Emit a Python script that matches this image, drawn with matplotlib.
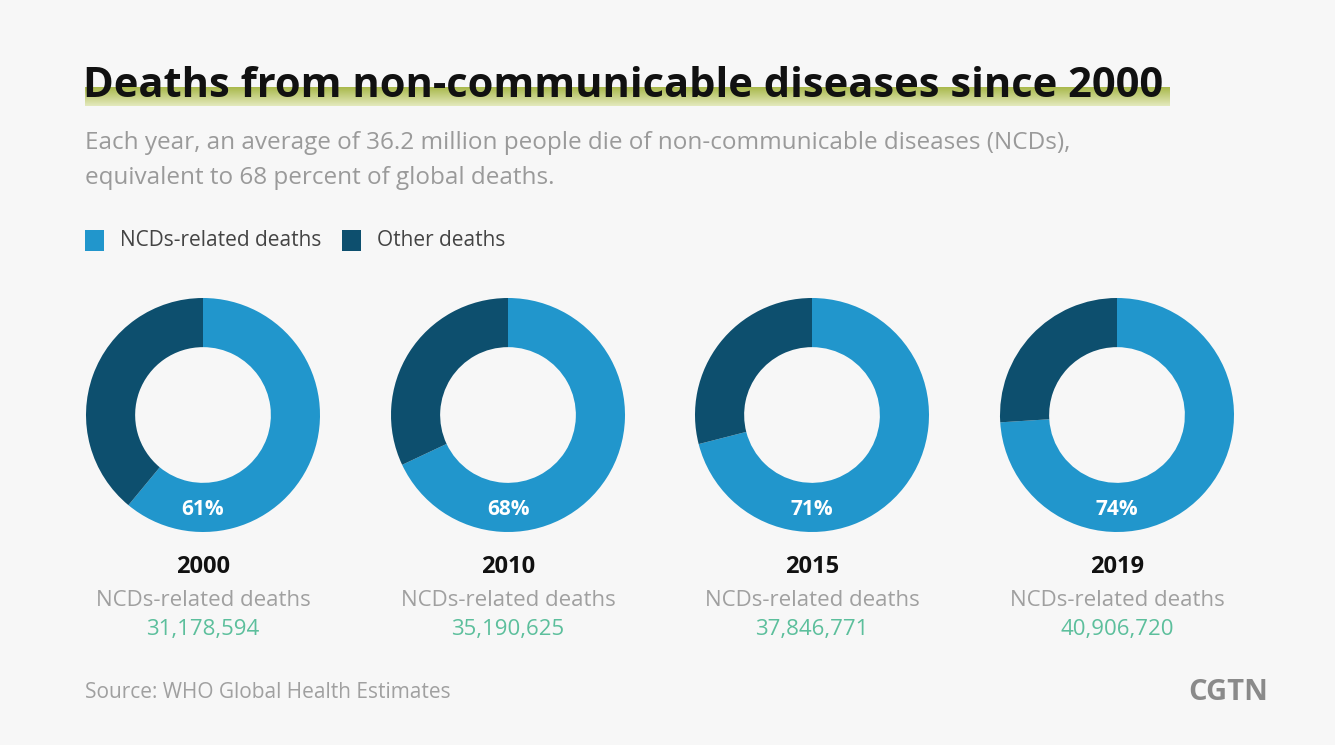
import matplotlib

matplotlib.use("Agg")
import matplotlib.pyplot as plt
import numpy as np
from matplotlib.colors import LinearSegmentedColormap
from matplotlib.patches import Rectangle

plt.rcParams["font.family"] = ["Open Sans", "DejaVu Sans"]

YEARS = ["2000", "2010", "2015", "2019"]
NCD_SHARE = [61, 68, 71, 74]
NCD_DEATHS = ["31,178,594", "35,190,625", "37,846,771", "40,906,720"]
LEGEND_LABELS = ["NCDs-related deaths", "Other deaths"]

TITLE = "Deaths from non-communicable diseases since 2000"
SUBTITLE = ("Each year, an average of 36.2 million people die of non-communicable diseases (NCDs),\n"
            "equivalent to 68 percent of global deaths.")
SOURCE = "Source: WHO Global Health Estimates"

NCD_COLOR = "#2196cc"
OTHER_COLOR = "#0d4f6e"
BG = "#f7f7f7"
W, H = 1335, 745


def fx(px: float) -> float:
    return px / W


def fy(py: float) -> float:
    return 1 - py / H


fig = plt.figure(figsize=(W / 100, H / 100), dpi=100, facecolor=BG)

# olive highlighter stroke under the title, fading downward
hl = fig.add_axes([fx(85), fy(106), fx(1170) - fx(85), fy(87) - fy(106)], zorder=0)
hl_cmap = LinearSegmentedColormap.from_list("hl", ["#e4e9bd", "#a9b94c"])
hl.imshow(np.linspace(0, 1, 50).reshape(-1, 1), aspect="auto", cmap=hl_cmap,
          origin="lower", extent=[0, 1, 0, 1])
hl.axis("off")

fig.text(fx(83), fy(97), TITLE, fontsize=30, fontweight="bold", color="#111111",
         va="baseline", ha="left", zorder=5)
fig.text(fx(85), fy(131), SUBTITLE, fontsize=17.5, color="#9a9a9a", va="top", ha="left",
         linespacing=1.62)

# legend
for lx, tx, color, label in zip([85, 342], [120, 377], [NCD_COLOR, OTHER_COLOR], LEGEND_LABELS):
    fig.patches.append(Rectangle((fx(lx), fy(251)), fx(19), fy(230) - fy(251),
                                 transform=fig.transFigure, facecolor=color, edgecolor="none"))
    fig.text(fx(tx), fy(240), label, fontsize=15, color="#444444", va="center", ha="left")

centers = [203, 508, 812, 1117]
radius = 117
cy = 415
for cx, year, share, deaths in zip(centers, YEARS, NCD_SHARE, NCD_DEATHS):
    ax = fig.add_axes([fx(cx - radius), fy(cy + radius), fx(2 * radius), fy(cy - radius) - fy(cy + radius)])
    ax.pie([share, 100 - share], colors=[NCD_COLOR, OTHER_COLOR], startangle=90,
           counterclock=False, wedgeprops={"width": 0.42, "edgecolor": "none"})
    ax.set_xlim(-1, 1)
    ax.set_ylim(-1, 1)
    ax.set_aspect("equal")
    ax.axis("off")
    ax.text(0, -0.81, f"{share}%", ha="center", va="center", fontsize=15,
            fontweight="bold", color="white")

    fig.text(fx(cx), fy(567), year, ha="center", va="center", fontsize=17,
             fontweight="bold", color="#111111")
    fig.text(fx(cx), fy(601), "NCDs-related deaths", ha="center", va="center",
             fontsize=16, color="#a0a0a0")
    fig.text(fx(cx), fy(629), deaths, ha="center", va="center", fontsize=16,
             color="#5cbf9c")

fig.text(fx(85), fy(692), SOURCE, ha="left", va="center", fontsize=15, color="#a0a0a0")
fig.text(fx(1268), fy(692), "CGTN", ha="right", va="center", fontsize=21,
         fontweight="bold", color="#8a8a8a")

fig.savefig("out.png", dpi=100, facecolor=BG)
